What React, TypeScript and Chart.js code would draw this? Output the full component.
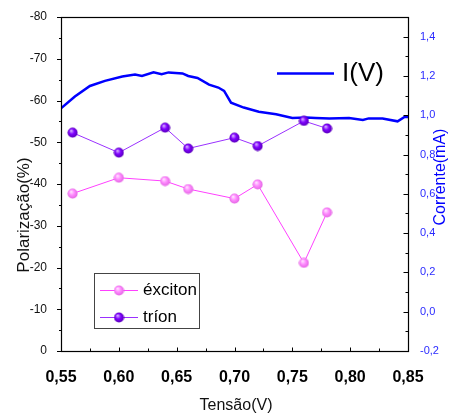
import React, { useEffect, useRef } from 'react';
import { Chart, registerables } from 'chart.js';

Chart.register(...registerables);

// ---- data ----
const voltages = [0.56, 0.6, 0.64, 0.66, 0.7, 0.72, 0.76, 0.78];
const excitonPol = [-37.7, -41.5, -40.7, -38.8, -36.5, -39.9, -21.1, -33.2];
const trionPol = [-52.3, -47.5, -53.5, -48.5, -51.1, -49.1, -55.1, -53.3];

const ivVoltage = [
  0.55, 0.562, 0.575, 0.588, 0.603, 0.614, 0.62, 0.63, 0.637, 0.643, 0.655,
  0.66, 0.668, 0.678, 0.686, 0.691, 0.697, 0.708, 0.721, 0.736, 0.75, 0.762,
  0.77, 0.782, 0.799, 0.811, 0.816, 0.828, 0.841, 0.847, 0.85,
];
const ivCurrent = [
  1.035, 1.095, 1.149, 1.175, 1.197, 1.207, 1.2, 1.219, 1.209, 1.218, 1.213,
  1.2, 1.19, 1.156, 1.141, 1.124, 1.064, 1.039, 1.018, 1.005, 0.986, 0.988,
  0.986, 0.983, 0.986, 0.976, 0.984, 0.983, 0.969, 0.991, 0.991,
];

const xTickValues = [0.55, 0.6, 0.65, 0.7, 0.75, 0.8, 0.85];
const leftTickValues = [-80, -70, -60, -50, -40, -30, -20, -10, 0];
const rightTickValues = [-0.2, 0, 0.2, 0.4, 0.6, 0.8, 1.0, 1.2, 1.4];

const xTitle = 'Tensão(V)';
const leftTitle = 'Polarização(%)';
const rightTitle = 'Corrente(mA)';
const ivLabel = 'I(V)';
const excitonLabel = 'éxciton';
const trionLabel = 'tríon';

const FONT = "'Liberation Sans', Arial, sans-serif";
const BLUE = '#0000ff';
const AXIS_BLUE = '#2b2bff';
const PINK_LINE = '#ff40ff';
const PURPLE_LINE = '#9a30ff';

function makeBall(light: string, base: string, dark: string) {
  const c = document.createElement('canvas');
  c.width = 11;
  c.height = 11;
  const g = c.getContext('2d')!;
  const grad = g.createRadialGradient(4, 3.5, 0.3, 5.5, 5.5, 5.5);
  grad.addColorStop(0, light);
  grad.addColorStop(0.45, base);
  grad.addColorStop(1, dark);
  g.fillStyle = grad;
  g.beginPath();
  g.arc(5.5, 5.5, 5, 0, Math.PI * 2);
  g.fill();
  return c;
}

export default function App() {
  const ref = useRef<HTMLCanvasElement | null>(null);

  useEffect(() => {
    const canvas = ref.current;
    if (!canvas) return;
    const pinkBall = makeBall('#ffe6ff', '#ff8cff', '#e060e0');
    const purpleBall = makeBall('#d9b3ff', '#7f00ff', '#5500b0');

    const decor = {
      id: 'decor',
      afterDraw(chart: any) {
        const { ctx, chartArea: a, scales } = chart;
        const sx = scales.x;
        const yl = scales.yL;
        const yr = scales.yR;
        ctx.save();
        ctx.strokeStyle = '#000';
        ctx.lineWidth = 1.2;
        ctx.strokeRect(a.left + 0.5, a.top + 0.5, a.right - a.left, a.bottom - a.top);

        ctx.lineWidth = 1;
        ctx.beginPath();
        // left axis ticks (outward)
        for (let v = -80; v <= 0; v += 5) {
          const py = Math.round(yl.getPixelForValue(v)) + 0.5;
          const len = v % 10 === 0 ? 4.5 : 2.5;
          ctx.moveTo(a.left + 0.5 - len, py);
          ctx.lineTo(a.left + 0.5, py);
        }
        // x axis ticks (inward)
        for (let i = 0; i <= 12; i++) {
          const v = 0.55 + i * 0.025;
          const px = Math.round(sx.getPixelForValue(v)) + 0.5;
          const len = i % 2 === 0 ? 4 : 3;
          ctx.moveTo(px, a.bottom + 0.5);
          ctx.lineTo(px, a.bottom + 0.5 - len);
        }
        // right axis ticks (inward)
        for (let i = 0; i <= 16; i++) {
          const v = -0.2 + i * 0.1;
          const py = Math.round(yr.getPixelForValue(v)) + 0.5;
          const len = i % 2 === 0 ? 5 : 3;
          ctx.moveTo(a.right + 0.5, py);
          ctx.lineTo(a.right + 0.5 - len, py);
        }
        ctx.stroke();

        // axis titles
        ctx.fillStyle = '#111';
        ctx.font = `17px ${FONT}`;
        ctx.textAlign = 'center';
        ctx.textBaseline = 'middle';
        ctx.save();
        ctx.translate(24, 215);
        ctx.rotate(-Math.PI / 2);
        ctx.fillText(leftTitle, 0, 0);
        ctx.restore();

        ctx.save();
        ctx.fillStyle = BLUE;
        ctx.font = `16px ${FONT}`;
        ctx.translate(441, 177);
        ctx.rotate(-Math.PI / 2);
        ctx.fillText(rightTitle, 0, 0);
        ctx.restore();

        ctx.font = `16px ${FONT}`;
        ctx.fillText(xTitle, 236, 406);

        // I(V) legend
        ctx.strokeStyle = BLUE;
        ctx.lineWidth = 2.5;
        ctx.beginPath();
        ctx.moveTo(277, 73.5);
        ctx.lineTo(334, 73.5);
        ctx.stroke();
        ctx.fillStyle = '#000';
        ctx.font = `26px ${FONT}`;
        ctx.textAlign = 'left';
        ctx.fillText(ivLabel, 342, 74);

        // point legend box
        ctx.strokeStyle = '#444';
        ctx.lineWidth = 1;
        ctx.strokeRect(94.5, 273.5, 105, 55);
        const entries = [
          { label: excitonLabel, color: PINK_LINE, img: pinkBall, y: 290 },
          { label: trionLabel, color: PURPLE_LINE, img: purpleBall, y: 317 },
        ];
        ctx.font = `17px ${FONT}`;
        for (const e of entries) {
          ctx.strokeStyle = e.color;
          ctx.beginPath();
          ctx.moveTo(100, e.y + 0.5);
          ctx.lineTo(138, e.y + 0.5);
          ctx.stroke();
          ctx.drawImage(e.img, 119 - 5.5, e.y - 5);
          ctx.fillStyle = '#000';
          ctx.fillText(e.label, 143, e.y);
        }
        ctx.restore();
      },
    };

    const chart = new Chart(canvas, {
      type: 'scatter',
      data: {
        datasets: [
          {
            label: trionLabel,
            data: voltages.map((v, i) => ({ x: v, y: trionPol[i] })),
            yAxisID: 'yL',
            showLine: true,
            borderColor: PURPLE_LINE,
            borderWidth: 1,
            pointStyle: purpleBall as any,
            pointRadius: 5,
            order: 0,
          },
          {
            label: excitonLabel,
            data: voltages.map((v, i) => ({ x: v, y: excitonPol[i] })),
            yAxisID: 'yL',
            showLine: true,
            borderColor: PINK_LINE,
            borderWidth: 1,
            pointStyle: pinkBall as any,
            pointRadius: 5,
            order: 1,
          },
          {
            label: ivLabel,
            data: ivVoltage.map((v, i) => ({ x: v, y: ivCurrent[i] })),
            yAxisID: 'yR',
            showLine: true,
            borderColor: BLUE,
            borderWidth: 2.5,
            pointRadius: 0,
            order: 2,
          },
        ],
      },
      options: {
        responsive: false,
        animation: false,
        devicePixelRatio: 1,
        layout: { padding: { top: 17, left: 0, right: 0, bottom: 0 } },
        plugins: { legend: { display: false }, tooltip: { enabled: false } },
        scales: {
          x: {
            type: 'linear',
            min: 0.55,
            max: 0.85,
            afterBuildTicks: (s: any) => {
              s.ticks = xTickValues.map((v) => ({ value: v }));
            },
            afterFit: (s: any) => {
              s.height = 66;
            },
            grid: { display: false },
            border: { display: false },
            ticks: {
              autoSkip: false,
              maxRotation: 0,
              padding: 9,
              color: '#000',
              font: { family: FONT, size: 16, weight: 'bold' },
              callback: (v: any) => Number(v).toFixed(2).replace('.', ','),
            },
          },
          yL: {
            type: 'linear',
            position: 'left',
            min: -80,
            max: 0,
            reverse: true,
            afterBuildTicks: (s: any) => {
              s.ticks = leftTickValues.map((v) => ({ value: v }));
            },
            afterFit: (s: any) => {
              s.width = 61;
            },
            grid: { display: false },
            border: { display: false },
            ticks: {
              padding: 6,
              color: '#111',
              font: { family: FONT, size: 12 },
              callback: (v: any) => String(Math.round(Number(v))),
            },
          },
          yR: {
            type: 'linear',
            position: 'right',
            min: -0.2,
            max: 1.5,
            afterBuildTicks: (s: any) => {
              s.ticks = rightTickValues.map((v) => ({ value: v }));
            },
            afterFit: (s: any) => {
              s.width = 43;
            },
            grid: { display: false },
            border: { display: false },
            ticks: {
              padding: 4,
              color: AXIS_BLUE,
              font: { family: FONT, size: 11 },
              callback: (v: any) => Number(v).toFixed(1).replace('.', ','),
            },
          },
        },
      },
      plugins: [decor],
    } as any);

    return () => chart.destroy();
  }, []);

  return (
    <div style={{ position: 'fixed', left: 0, top: 0, width: 451, height: 417, background: '#fff' }}>
      <canvas ref={ref} width={451} height={417} />
    </div>
  );
}
